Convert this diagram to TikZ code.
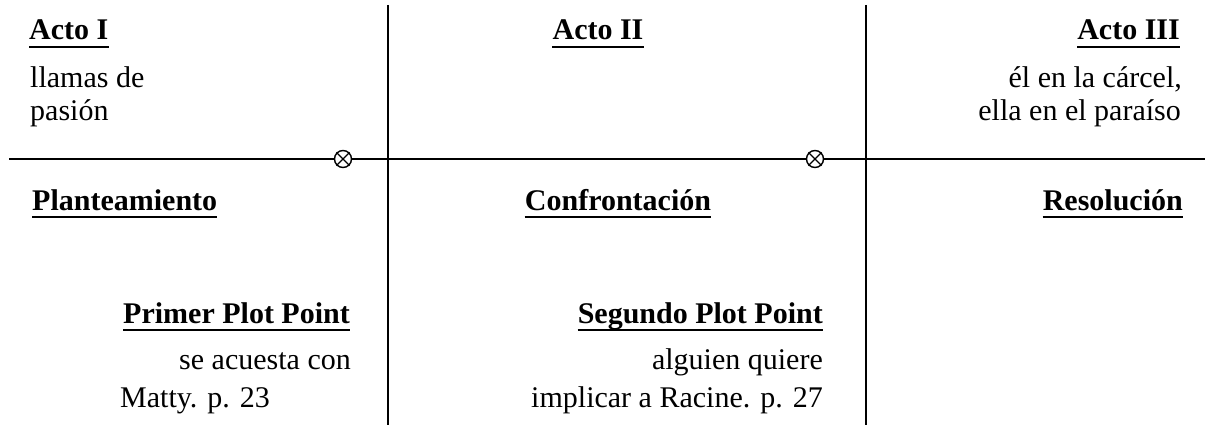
\documentclass[tikz,border=0pt]{standalone}
\usepackage{fontspec}
\setmainfont{Liberation Serif}
\begin{document}
\begin{tikzpicture}[x=1pt,y=-1pt,
  txt/.style={inner sep=0pt, font=\fontsize{30}{34}\selectfont},
  hd/.style={inner sep=0pt, font=\fontsize{30}{34}\selectfont\bfseries},
  rule/.style={line width=1.6pt},
  ul/.style={line width=2.6pt},
  crossmark/.style={draw, circle, minimum size=17pt, inner sep=0pt, line width=1.4pt, fill=white}]
\useasboundingbox (0,0) rectangle (1205,425);
% lines
\coordinate (hl) at (9,159);
\coordinate (hr) at (1205,159);
\coordinate (v1t) at (388,5);
\coordinate (v1b) at (388,425);
\coordinate (v2t) at (866,5);
\coordinate (v2b) at (866,425);
\draw[rule] (hl) -- (hr);
\draw[rule] (v1t) -- (v1b);
\draw[rule] (v2t) -- (v2b);
% crossed circles
\node[crossmark] (x1) at (343,159) {};
\node[crossmark] (x2) at (815,159) {};
\foreach \m in {x1,x2}{
  \draw[line width=1.4pt] (\m.north west) -- (\m.south east);
  \draw[line width=1.4pt] (\m.north east) -- (\m.south west);
}
% texts
\node[hd,anchor=base west] (a1) at (29,40) {Acto I};
\node[txt,anchor=base west] (a1l1) at (30,88) {llamas de};
\node[txt,anchor=base west] (a1l2) at (30,121) {pasión};
\node[hd,anchor=base] (a2) at (598,40) {Acto II};
\node[hd,anchor=base east] (a3) at (1180,40) {Acto III};
\node[txt,anchor=base east] (a3l1) at (1182,88) {él en la cárcel,};
\node[txt,anchor=base east] (a3l2) at (1181,121) {ella en el paraíso};
\node[hd,anchor=base west] (p1) at (32,210) {Planteamiento};
\node[hd,anchor=base] (p2) at (618,210) {Confrontación};
\node[hd,anchor=base east] (p3) at (1183,210) {Resolución};
\node[hd,anchor=base east] (pp1) at (350,323) {Primer Plot Point};
\node[txt,anchor=base east] (pp1a) at (351,369) {se acuesta con};
\node[txt,anchor=base west] (pp1b) at (120,407) {Matty. p. 23};
\node[hd,anchor=base east] (pp2) at (823,323) {Segundo Plot Point};
\node[txt,anchor=base east] (pp2a) at (823,369) {alguien quiere};
\node[txt,anchor=base east] (pp2b) at (823,407) {implicar a Racine. p. 27};
\foreach \n in {a1,a2,a3,p1,p2,p3,pp1,pp2}
  \draw[ul] ([yshift=-7pt]\n.base west) -- ([yshift=-7pt]\n.base east);
\end{tikzpicture}
\end{document}
